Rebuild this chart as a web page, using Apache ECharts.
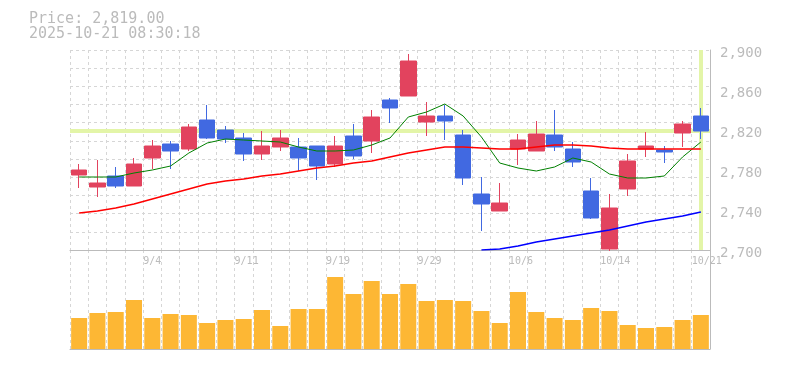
<!DOCTYPE html>
<html><head><meta charset="utf-8">
<script src="https://cdn.jsdelivr.net/npm/echarts@6/dist/echarts.min.js"></script>
<style>html,body{margin:0;padding:0;background:#fff}#c{width:785px;height:370px}</style>
</head><body><div id="c"></div>
<script>
const dates = ['8/29','9/1','9/2','9/3','9/4','9/5','9/8','9/9','9/10','9/11','9/12','9/16','9/17','9/18','9/19','9/22','9/24','9/25','9/26','9/29','9/30','10/1','10/2','10/3','10/6','10/7','10/8','10/9','10/10','10/14','10/15','10/16','10/17','10/20','10/21'];
const opens  = [2775,2763,2774,2764,2792,2806,2801,2830,2820,2812,2796,2803,2803,2804,2786,2814,2809,2850,2854,2828,2834,2815,2756,2739,2801,2799,2815,2801,2759,2701,2761,2801,2800,2817,2834];
const closes = [2780,2767,2764,2786,2804,2799,2823,2812,2811,2796,2804,2812,2792,2784,2804,2794,2833,2842,2889,2834,2829,2772,2746,2747,2810,2816,2803,2788,2732,2742,2789,2804,2798,2826,2819];
const lows   = [2762,2753,2762,2764,2781,2781,2799,2811,2807,2789,2790,2799,2779,2770,2783,2791,2797,2827,2854,2814,2810,2765,2719,2739,2785,2799,2799,2783,2731,2699,2754,2793,2787,2803,2811];
const highs  = [2786,2790,2783,2792,2810,2809,2826,2845,2824,2817,2819,2820,2812,2804,2814,2826,2840,2852,2896,2848,2845,2820,2773,2767,2816,2829,2840,2808,2772,2756,2796,2818,2804,2829,2842];
const ma5  = [2773,2773,2773,2777,2780,2784,2797,2807,2811,2810,2809,2808,2803,2799,2799,2800,2805,2812,2833,2838,2846,2834,2813,2787,2782,2779,2783,2792,2788,2776,2772,2772,2774,2793,2808];
const ma25 = [2737,2739,2742,2746,2751,2756,2761,2766,2769,2771,2774,2776,2779,2782,2784,2787,2789,2793,2797,2800,2803,2803,2802,2801,2801,2803,2805,2805,2804,2802,2801,2801,2801,2801,2801];
const ma75 = [null,null,null,null,null,null,null,null,null,null,null,null,null,null,null,null,null,null,null,null,null,null,2700,2701,2704,2708,2711,2714,2717,2720,2724,2728,2731,2734,2738];
const volumes = [31,36,37,49,31,35,34,26,29,30,39,23,40,40,72,55,68,55,65,48,49,48,38,26,57,37,31,29,41,38,24,21,22,29,34];
const dateTickLabels = ['9/4','9/11','9/19','9/29','10/6','10/14','10/21'];
const priceTickLabels = [2700,2740,2780,2820,2860,2900];
const lastPrice = 2819;
const headerLines = ['Price: 2,819.00','2025-10-21 08:30:18'];

const mono = 'DejaVu Sans Mono';
const axisGray = '#bbbbbb';
const gridGray = '#d6d6d6';
const labelAt = {};
dateTickLabels.forEach(l => { labelAt[dates.indexOf(l)] = l; });

const chart = echarts.init(document.getElementById('c'), null, {renderer: 'canvas'});
chart.setOption({
  animation: false,
  backgroundColor: '#ffffff',
  title: {
    left: 29, top: 12, padding: 0,
    text: headerLines.join('\n'),
    textStyle: {color: '#bbbbbb', fontSize: 15, lineHeight: 15, fontFamily: mono, fontWeight: 'normal'}
  },
  grid: [
    {left: 70, top: 50, width: 640, height: 200},
    {left: 70, top: 250, width: 640, height: 99}
  ],
  xAxis: [
    {type: 'value', gridIndex: 0, min: 0, max: dates.length, interval: 1, position: 'bottom',
     axisLine: {show: true, onZero: false, lineStyle: {color: axisGray}},
     axisTick: {show: false},
     splitLine: {show: true, lineStyle: {color: gridGray, type: [3, 3]}},
     axisLabel: {formatter: v => labelAt[v] || '', align: 'left', margin: 6, color: axisGray, fontSize: 10, fontFamily: mono}},
    {type: 'category', gridIndex: 0, data: dates, boundaryGap: true, show: false},
    {type: 'value', gridIndex: 1, min: 0, max: dates.length, interval: 1, position: 'bottom',
     axisLine: {show: true, onZero: false, lineStyle: {color: axisGray}},
     axisTick: {show: false}, axisLabel: {show: false},
     splitLine: {show: true, lineStyle: {color: gridGray, type: [3, 3]}}},
    {type: 'category', gridIndex: 1, data: dates, boundaryGap: true, show: false}
  ],
  yAxis: [
    {type: 'value', gridIndex: 0, position: 'right', min: 2700, max: 2900, interval: 20,
     axisLine: {show: true, onZero: false, lineStyle: {color: axisGray}},
     axisTick: {show: false}, splitLine: {show: false},
     axisLabel: {formatter: v => priceTickLabels.includes(v) ? v.toLocaleString('en-US') : '',
                 color: axisGray, fontSize: 14, fontFamily: mono, margin: 10,
                 verticalAlign: 'top', lineHeight: 6}},
    {type: 'value', gridIndex: 0, position: 'left', min: 0, max: 11, interval: 1,
     axisLine: {show: false}, axisTick: {show: false}, axisLabel: {show: false},
     splitLine: {show: true, lineStyle: {color: gridGray, type: [3, 3]}}},
    {type: 'value', gridIndex: 1, position: 'right', min: 0, max: 99,
     axisLine: {show: true, onZero: false, lineStyle: {color: axisGray}},
     axisTick: {show: false}, axisLabel: {show: false}, splitLine: {show: false}}
  ],
  series: [
    {type: 'line', name: 'marker', xAxisIndex: 1, yAxisIndex: 0, data: [], z: 1, zlevel: 0,
     markLine: {silent: true, z: 1, symbol: ['none', 'none'], label: {show: false},
       lineStyle: {color: '#e3f5a8', width: 4, type: 'solid'},
       data: [{yAxis: lastPrice}, {xAxis: dates[dates.length - 1]}]}},
    {type: 'candlestick', xAxisIndex: 1, yAxisIndex: 0, z: 3, barWidth: 16,
     data: dates.map((d, i) => [opens[i], closes[i], lows[i], highs[i]]),
     itemStyle: {color: '#e2435e', color0: '#4169e1', borderColor: '#e2435e', borderColor0: '#4169e1', borderWidth: 1}},
    {type: 'line', xAxisIndex: 1, yAxisIndex: 0, data: ma5, symbol: 'none', z: 4,
     lineStyle: {color: '#008000', width: 1}},
    {type: 'line', xAxisIndex: 1, yAxisIndex: 0, data: ma25, symbol: 'none', z: 4,
     lineStyle: {color: '#ff0000', width: 1.5}},
    {type: 'line', xAxisIndex: 1, yAxisIndex: 0, data: ma75, symbol: 'none', z: 4,
     lineStyle: {color: '#0000ff', width: 1.5}},
    {type: 'bar', xAxisIndex: 3, yAxisIndex: 2, data: volumes, barWidth: 16,
     itemStyle: {color: '#fdb734'}}
  ]
});
</script>
</body></html>
